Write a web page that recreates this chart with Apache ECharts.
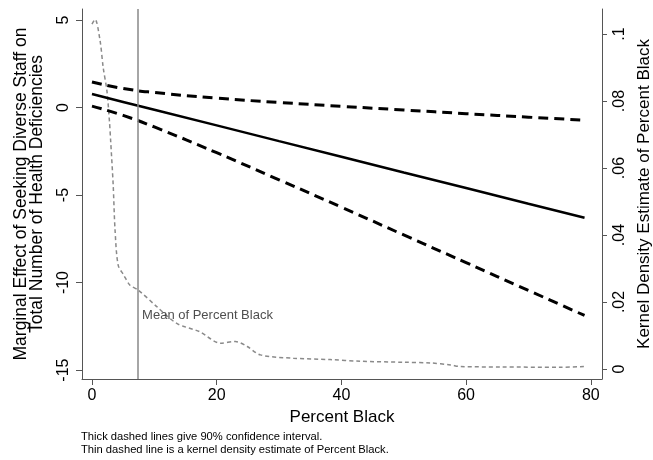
<!DOCTYPE html>
<html>
<head>
    <meta charset="utf-8">
    <title>Marginal effect</title>
    <script src="https://cdn.jsdelivr.net/npm/echarts@6/dist/echarts.min.js"></script>
</head>
<body style="margin:0;background:#fff">
    <div id="main" style="width: 653px;height:460px;"></div>
    <script type="text/javascript">
        // values
        var pctBlack = [0, 5, 10, 20, 30, 40, 50, 60, 70, 79];
        var effect = [0.77, 0.32, -0.13, -1.02, -1.92, -2.81, -3.71, -4.60, -5.50, -6.30];
        var upperCI = [1.46, 1.09, 0.86, 0.54, 0.29, 0.07, -0.14, -0.35, -0.55, -0.72];
        var lowerCI = [0.08, -0.45, -1.11, -2.58, -4.13, -5.69, -7.28, -8.86, -10.45, -11.88];

        var kdeX = [0, 0.5, 1.3, 1.8, 2.4, 2.8, 3.0, 3.4, 3.7, 4.2, 5.1, 6.1, 7.4, 10.4, 13.6, 17.3, 20.6, 23.0, 24.9, 27.0, 32.3, 38.2, 43.0, 50.0, 54.3, 57.5, 59.1, 65.5, 75.2, 78.9];
        var kdeY = [0.103, 0.1044, 0.098, 0.090, 0.083, 0.074, 0.068, 0.055, 0.0415, 0.031, 0.028, 0.025, 0.0236, 0.0186, 0.0136, 0.0111, 0.0077, 0.0082, 0.0067, 0.0042, 0.0032, 0.0028, 0.0023, 0.0020, 0.0018, 0.0012, 0.0007, 0.0006, 0.0005, 0.0007];

        var meanBlack = 7.4;
        var xTicks = [0, 20, 40, 60, 80];
        var leftTicks = [-15, -10, -5, 0, 5];
        var rightTicks = [0, 0.02, 0.04, 0.06, 0.08, 0.1];

        function pairs(xs, ys) {
            return xs.map(function (x, i) { return [x, ys[i]]; });
        }

        var font = 'Liberation Sans, Arial, sans-serif';
        var axisCol = '#555';

        var myChart = echarts.init(document.getElementById('main'));
        myChart.setOption({
            backgroundColor: '#fff',
            animation: false,
            grid: { left: 82, right: 51, top: 9, bottom: 81, outerBoundsMode: 'none' },
            xAxis: {
                type: 'value',
                min: -1.6,
                max: 81.8,
                name: 'Percent Black',
                nameLocation: 'middle',
                nameGap: 24,
                nameTextStyle: { fontFamily: font, fontSize: 17, color: '#000' },
                axisLine: { show: true, onZero: false, lineStyle: { color: axisCol } },
                axisTick: { show: true, length: 6, customValues: xTicks, lineStyle: { color: axisCol } },
                axisLabel: { customValues: xTicks, fontFamily: font, fontSize: 16, color: '#000', margin: 9 },
                splitLine: { show: false }
            },
            yAxis: [{
                    type: 'value',
                    min: -15.51,
                    max: 5.63,
                    name: 'Marginal Effect of Seeking Diverse Staff on\nTotal Number of Health Deficiencies',
                    nameLocation: 'middle',
                    nameRotate: 90,
                    nameGap: 37,
                    nameTextStyle: { fontFamily: font, fontSize: 17.5, lineHeight: 16, color: '#000' },
                    axisLine: { show: true, onZero: false, lineStyle: { color: axisCol } },
                    axisTick: { show: true, length: 6, customValues: leftTicks, lineStyle: { color: axisCol } },
                    axisLabel: { customValues: leftTicks, rotate: 90, fontFamily: font, fontSize: 16, color: '#000', margin: 10 },
                    splitLine: { show: false }
                },
                {
                    type: 'value',
                    position: 'right',
                    min: -0.003,
                    max: 0.1075,
                    name: 'Kernel Density Estimate of Percent Black',
                    nameLocation: 'middle',
                    nameRotate: 90,
                    nameGap: 32,
                    nameTextStyle: { fontFamily: font, fontSize: 17, color: '#000' },
                    axisLine: { show: true, onZero: false, lineStyle: { color: axisCol } },
                    axisTick: { show: true, length: 5, customValues: rightTicks, lineStyle: { color: axisCol } },
                    axisLabel: {
                        customValues: rightTicks,
                        rotate: 90,
                        fontFamily: font,
                        fontSize: 16,
                        color: '#000',
                        margin: 10,
                        formatter: function (v) {
                            if (v === 0) return '0';
                            return String(+v.toFixed(2)).replace(/^0/, '');
                        }
                    },
                    splitLine: { show: false }
                }
            ],
            graphic: [{
                type: 'text',
                left: 81,
                top: 430,
                style: {
                    text: 'Thick dashed lines give 90% confidence interval.\nThin dashed line is a kernel density estimate of Percent Black.',
                    font: '11.2px ' + font,
                    lineHeight: 13,
                    fill: '#000'
                }
            }],
            series: [{
                    type: 'line',
                    yAxisIndex: 1,
                    data: pairs(kdeX, kdeY),
                    symbol: 'none',
                    smooth: 0.3,
                    lineStyle: { color: '#8a8a8a', width: 1.5, type: [4, 3] },
                    z: 1
                },
                {
                    type: 'scatter',
                    data: [[meanBlack, -11.9]],
                    symbolSize: 0,
                    label: {
                        show: true,
                        position: 'right',
                        distance: 4,
                        formatter: 'Mean of Percent Black',
                        fontFamily: font,
                        fontSize: 13,
                        color: '#222'
                    },
                    markLine: {
                        silent: true,
                        symbol: 'none',
                        label: { show: false },
                        lineStyle: { color: '#888', width: 1.5, type: 'solid' },
                        data: [{ xAxis: meanBlack }]
                    },
                    z: 2
                },
                {
                    type: 'line',
                    data: pairs(pctBlack, upperCI),
                    symbol: 'none',
                    smooth: true,
                    lineStyle: { color: '#000', width: 3, type: [10, 6] },
                    z: 3
                },
                {
                    type: 'line',
                    data: pairs(pctBlack, lowerCI),
                    symbol: 'none',
                    smooth: true,
                    lineStyle: { color: '#000', width: 3, type: [10, 6] },
                    z: 3
                },
                {
                    type: 'line',
                    data: pairs(pctBlack, effect),
                    symbol: 'none',
                    lineStyle: { color: '#000', width: 2.5 },
                    z: 3
                }
            ]
        });
    </script>
</body>
</html>
